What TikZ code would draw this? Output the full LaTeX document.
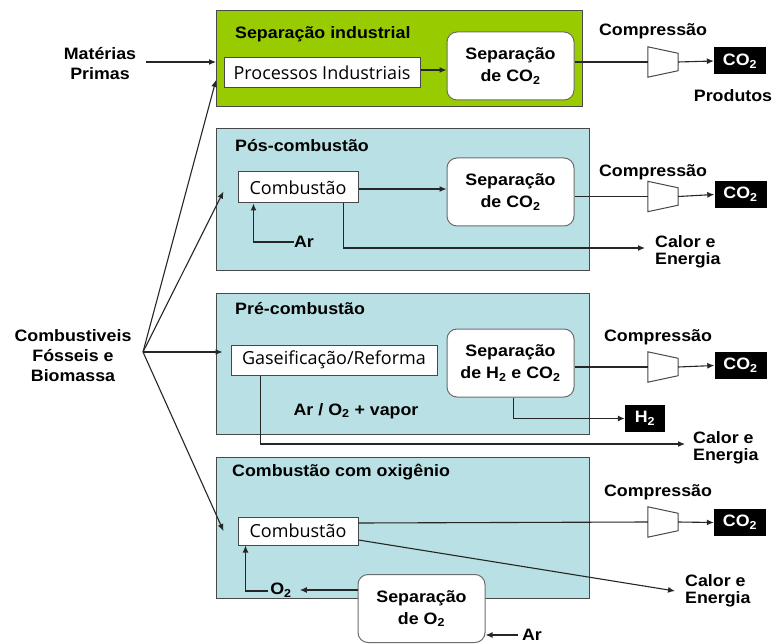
\documentclass[tikz,border=0pt]{standalone}
\usepackage{fontspec}
\setmainfont{Liberation Sans}[FakeStretch=1.08]
\newfontfamily\comicfont{Open Sans}
\usepackage{tikz}
\usetikzlibrary{arrows.meta,positioning,shapes.geometric,calc}
\definecolor{indGreen}{RGB}{153,204,0}
\definecolor{ccsBlue}{RGB}{185,224,228}
\definecolor{edgeGray}{RGB}{72,72,72}

\begin{document}
\begin{tikzpicture}[x=1pt, y=-1pt, font=\fontsize{16.5}{20}\selectfont\bfseries,
  >={Latex[length=7pt,width=6pt]},
  panel/.style={draw=edgeGray, line width=1.4pt, anchor=north west, inner sep=0pt},
  title/.style={anchor=west, inner sep=0pt},
  unit/.style={draw=edgeGray, fill=white, line width=1pt, inner sep=0pt, minimum height=30,
               font=\comicfont\fontsize{18}{20}\selectfont},
  sepbox/.style={draw=edgeGray!80, fill=white, line width=1pt, rounded corners=10pt, align=center,
                 inner sep=0pt, minimum width=127, minimum height=68,
                 font=\fontsize{16.5}{22}\selectfont\bfseries},
  comp/.style={rectangle, inner sep=0pt, minimum width=30, minimum height=30},
  compline/.style={draw=edgeGray, fill=white, line width=1pt},
  prod/.style={fill=black, text=white, inner sep=0pt, minimum width=52, minimum height=27},
  txt/.style={align=center, inner sep=0pt},
  heat/.style={align=left, inner sep=0pt, font=\fontsize{16.5}{17.5}\selectfont\bfseries},
  flow/.style={->, line width=1.1pt, draw=black!85},
  pipe/.style={line width=1.1pt, draw=black!85}]
  \useasboundingbox (0,0) rectangle (781,644);

  \node[panel, fill=indGreen, minimum width=366, minimum height=96] (ind) at (216,10) {};
  \node[panel, fill=ccsBlue, minimum width=373, minimum height=142] (pos) at (216,128) {};
  \node[panel, fill=ccsBlue, minimum width=373, minimum height=141] (pre) at (216,293) {};
  \node[panel, fill=ccsBlue, minimum width=373, minimum height=141] (oxi) at (216,457) {};

  \node[title] (tind) at (235,34) {Separação industrial};
  \node[title] (tpos) at (235,146) {Pós-combustão};
  \node[title] (tpre) at (235,309) {Pré-combustão};
  \node[title] (toxi) at (232,472) {Combustão com oxigênio};

  \node[txt] (mat) at (100,64) {Matérias\\Primas};
  \node[txt] (fuel) at (73,356) {Combustiveis\\Fósseis e\\Biomassa};
  \coordinate (fan) at (143,352);

  % separacao industrial
  \node[unit, minimum width=196] (proc) at (322,73) {Processos Industriais};
  \node[sepbox] (sep1) at (510.5,66) {Separação\\de CO\textsubscript{2}};
  \node[comp] (k1) at (663,62) {};
  \node[prod] (co2a) at (740,61) {CO\textsubscript{2}};
  \node[txt] (cmp1) at (653,31) {Compressão};
  \node[txt] (prods) at (733,96) {Produtos};

  % pos-combustao
  \node[unit, minimum width=120, minimum height=31] (cb1) at (298,187.5) {Combustão};
  \node[sepbox] (sep2) at (510.5,192) {Separação\\de CO\textsubscript{2}};
  \node[comp] (k2) at (663,196.5) {};
  \node[prod] (co2b) at (740.5,194.5) {CO\textsubscript{2}};
  \node[txt] (cmp2) at (653,172) {Compressão};
  \node[txt] (ar1) at (304,242) {Ar};
  \node[heat, anchor=west] (cal1) at (655,252) {Calor e\\Energia};

  % pre-combustao
  \node[unit, minimum width=206] (gas) at (334,360) {Gaseificação/Reforma};
  \node[sepbox] (sep3) at (510.5,363) {Separação\\de H\textsubscript{2} e CO\textsubscript{2}};
  \node[comp] (k3) at (663,367) {};
  \node[prod] (co2c) at (740.5,365.5) {CO\textsubscript{2}};
  \node[txt] (cmp3) at (658,337) {Compressão};
  \node[prod, minimum width=40] (h2) at (645,418.5) {H\textsubscript{2}};
  \node[txt] (vap) at (356,411) {Ar / O\textsubscript{2} + vapor};
  \node[heat, anchor=west] (cal2) at (693,448) {Calor e\\Energia};

  % oxicombustao
  \node[unit, minimum width=120, minimum height=28] (cb2) at (298,531) {Combustão};
  \node[comp] (k4) at (663,522) {};
  \node[prod] (co2d) at (740,522.5) {CO\textsubscript{2}};
  \node[txt] (cmp4) at (658,492) {Compressão};
  \node[heat, anchor=west] (cal3) at (685,591) {Calor e\\Energia};

  % compressores
  \foreach \k in {k1,k2,k3,k4}
    \draw[compline] (\k.north west) -- ([shift={(0,6.5)}]\k.north east)
      -- ([shift={(0,-6.5)}]\k.south east) -- (\k.south west) -- cycle;

  % feeds
  \draw[flow] ([xshift=10]mat.east |- 0,62) -- (ind.west |- 0,62);
  \draw[flow] (fan) -- (ind.west |- 0,80);
  \draw[flow] (fan) -- ([shift={(-14,4)}]cb1.west);
  \draw[flow] (fan) -- ([xshift=-8]fan -| gas.west);
  \draw[flow] (fan) -- ([xshift=-14]cb2.west);

  % industrial
  \draw[flow] (proc.east |- 0,70) -- (sep1.west |- 0,70);
  \draw[pipe] (sep1.east |- k1) -- (k1.west);
  \draw[flow] (k1.east) -- (co2a.west);

  % pos
  \draw[flow] (cb1.east |- 0,189) -- (sep2.west |- 0,189);
  \draw[flow] (ar1.west) -| ([xshift=16]cb1.south west);
  \draw[flow] ([xshift=-15]cb1.south east) |- ([shift={(-10,-4)}]cal1.west);
  \draw[pipe] (sep2.east |- k2) -- (k2.west);
  \draw[flow] (k2.east) -- (co2b.west);

  % pre
  \draw[pipe] (sep3.east |- k3) -- (k3.west);
  \draw[flow] (k3.east) -- (co2c.west);
  \draw[flow] ([xshift=3]sep3.south) |- (h2.west);
  \draw[flow] ([xshift=30]gas.south west) |- ([shift={(-8,-4)}]cal2.west);

  % oxi
  \draw[pipe] ([shift={(0,-8)}]cb2.east) -- (k4.west);
  \draw[flow] (k4.east) -- (co2d.west);
  \draw[flow] ([shift={(0,9)}]cb2.east) -- ([xshift=-10]cal3.west);
  \node[sepbox] (sep4) at (421.5,608.5) {Separação\\de O\textsubscript{2}};
  \node[txt] (o2) at (281,590) {O\textsubscript{2}};
  \node[txt] (ar2) at (532,635) {Ar};
  \draw[flow] (sep4.west |- 0,590) -- ([xshift=8]o2.east |- 0,590);
  \draw[flow] ([xshift=-2]o2.west |- 0,591) -| ([xshift=8]cb2.south west);
  \draw[flow] ([xshift=-4]ar2.west) -- (ar2.west -| sep4.east);
\end{tikzpicture}
\end{document}
